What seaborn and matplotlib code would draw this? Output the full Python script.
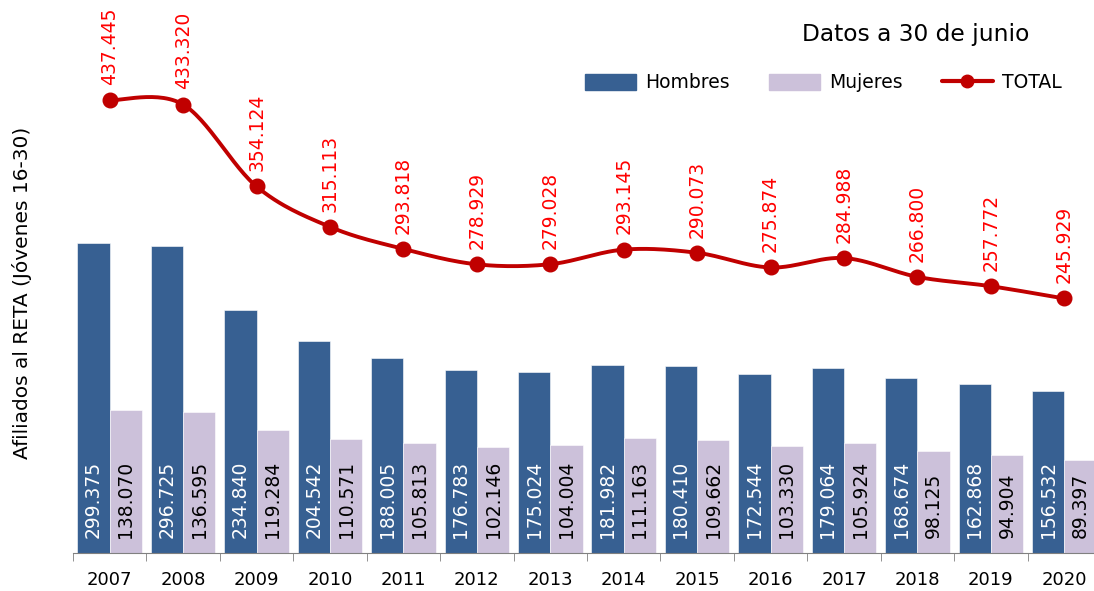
import numpy as np
import pandas as pd
import seaborn as sns
import matplotlib.pyplot as plt
from matplotlib.patches import Patch
from matplotlib.lines import Line2D

years = ['2007', '2008', '2009', '2010', '2011', '2012', '2013', '2014',
         '2015', '2016', '2017', '2018', '2019', '2020']
hombres = [299375, 296725, 234840, 204542, 188005, 176783, 175024, 181982,
           180410, 172544, 179064, 168674, 162868, 156532]
mujeres = [138070, 136595, 119284, 110571, 105813, 102146, 104004, 111163,
           109662, 103330, 105924, 98125, 94904, 89397]
total = [437445, 433320, 354124, 315113, 293818, 278929, 279028, 293145,
         290073, 275874, 284988, 266800, 257772, 245929]

C_H = '#376092'
C_M = '#CCC1DA'
C_T = '#C00000'

sns.set_style('white')
plt.rcParams['font.family'] = ['DejaVu Sans']
plt.rcParams['text.color'] = 'black'
plt.rcParams['xtick.color'] = 'black'


def fmt(v):
    return f'{v:,}'.replace(',', '.')


def smooth(xs, ys, n=30):
    # bezier smoothing like the spreadsheet "smoothed line"
    p = np.column_stack([xs, ys]).astype(float)
    pts = []
    for i in range(len(p) - 1):
        p0 = p[i - 1] if i > 0 else p[i]
        p3 = p[i + 2] if i + 2 < len(p) else p[i + 1]
        c1 = p[i] + (p[i + 1] - p0) / 6
        c2 = p[i + 1] - (p3 - p[i]) / 6
        t = np.linspace(0, 1, n)[:, None]
        seg = ((1 - t) ** 3 * p[i] + 3 * (1 - t) ** 2 * t * c1
               + 3 * (1 - t) * t ** 2 * c2 + t ** 3 * p[i + 1])
        pts.append(seg if i == 0 else seg[1:])
    pts = np.vstack(pts)
    return pts[:, 0], pts[:, 1]


df = pd.DataFrame({'year': years * 2,
                   'valor': hombres + mujeres,
                   'sexo': ['Hombres'] * len(years) + ['Mujeres'] * len(years)})

fig = plt.figure(figsize=(10.94, 5.91), dpi=100)
ax = fig.add_axes([73 / 1094, 1 - 553 / 591, 1028 / 1094, 533 / 591])

sns.barplot(data=df, x='year', y='valor', hue='sexo', palette=[C_H, C_M],
            width=0.88, gap=0, saturation=1, legend=False, ax=ax,
            edgecolor='white', linewidth=0.4)

# labels inside bars
for cont, col in zip(ax.containers, ['white', 'black']):
    for bar, v in zip(cont, hombres if col == 'white' else mujeres):
        ax.annotate(fmt(v), (bar.get_x() + bar.get_width() / 2, 0),
                    xytext=(0, 11), textcoords='offset points', rotation=90,
                    ha='center', va='bottom', color=col, fontsize=13.5)

xs = np.arange(len(years))
sx, sy = smooth(xs, total)
ax.plot(sx, sy, color=C_T, lw=2.8, zorder=5)
ax.plot(xs, total, 'o', color=C_T, ms=10.5, zorder=6)
for x, v in zip(xs, total):
    ax.annotate(fmt(v), (x, v), xytext=(0, 11), textcoords='offset points',
                rotation=90, ha='center', va='bottom', color='#FF0000',
                fontsize=13.5)

ax.set_ylim(0, 515000)
ax.set_xlim(-0.5, len(years) - 0.5)
for s in ['left', 'top', 'right']:
    ax.spines[s].set_visible(False)
ax.spines['bottom'].set_color('#808080')
ax.set_yticks([])
ax.set_xticks(xs)
ax.set_xticklabels(years, fontsize=13)
ax.set_xticks(np.arange(-0.5, len(years), 1), minor=True)
ax.tick_params(axis='x', which='major', length=0, pad=13)
ax.tick_params(axis='x', which='minor', length=6, color='#808080', bottom=True)
ax.set_xlabel('')
ax.set_ylabel('')

fig.text(22 / 1094, 1 - 293 / 591, 'Afiliados al RETA (Jóvenes 16-30)',
         rotation=90, ha='center', va='center', fontsize=14.5)
fig.text(916 / 1094, 1 - 35 / 591, 'Datos a 30 de junio', ha='center',
         va='center', fontsize=16.8)

handles = [Patch(color=C_H, label='Hombres'),
           Patch(color=C_M, label='Mujeres'),
           Line2D([], [], color=C_T, lw=3, marker='o', ms=9, label='TOTAL')]
fig.legend(handles=handles, ncol=3, loc='center right',
           bbox_to_anchor=(1071 / 1094, 1 - 83 / 591), frameon=False,
           fontsize=13.5, handlelength=2.7, handleheight=0.9,
           handletextpad=0.5, columnspacing=2.1, borderpad=0)

fig.savefig('out.png', dpi=100)
